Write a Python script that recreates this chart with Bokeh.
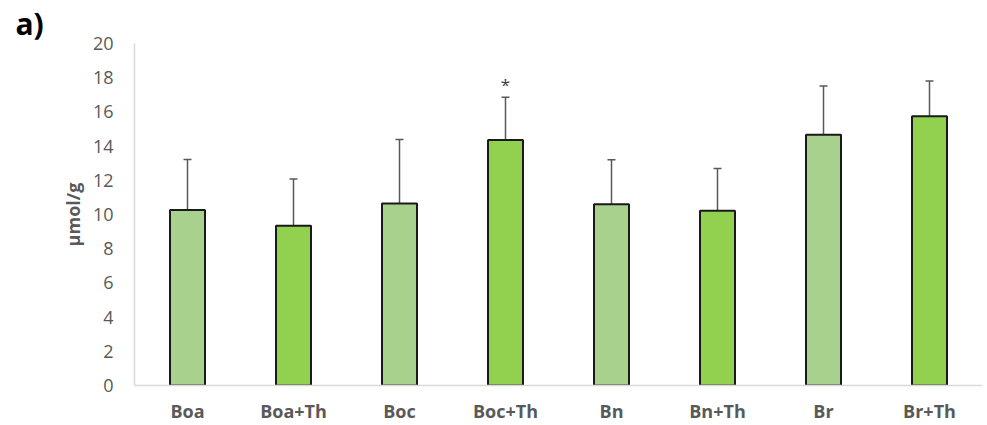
from bokeh.plotting import figure
from bokeh.models import ColumnDataSource, Whisker, TeeHead, Range1d, FixedTicker
from bokeh.core.properties import value
from bokeh.embed import file_html
from bokeh.resources import INLINE

# Treatments and measured concentrations (µmol/g) with standard deviations
groups = ["Boa", "Boa+Th", "Boc", "Boc+Th", "Bn", "Bn+Th", "Br", "Br+Th"]
means = [10.27, 9.34, 10.64, 14.35, 10.60, 10.22, 14.66, 15.75]
errors = [2.95, 2.73, 3.75, 2.50, 2.60, 2.47, 2.85, 2.05]
# treated groups (+Th) use the darker green
treated = [False, True, False, True, False, True, False, True]
# significance marks placed above the error bar
sig_groups = ["Boc+Th"]
sig_marks = ["*"]

y_ticks = [0, 2, 4, 6, 8, 10, 12, 14, 16, 18, 20]

LIGHT = "#A9D18E"
DARK = "#92D050"
TEXT = "#595959"
FONT = "Open Sans"

source = ColumnDataSource(dict(
    group=groups,
    mean=means,
    upper=[m + e for m, e in zip(means, errors)],
    lower=[m - e for m, e in zip(means, errors)],
    color=[DARK if t else LIGHT for t in treated],
))

p = figure(
    x_range=groups,
    y_range=Range1d(0, 20),
    width=987, height=425,
    output_backend="svg",
    toolbar_location=None,
    min_border_left=134, min_border_right=5,
    min_border_top=43, min_border_bottom=40,
)

# panel letter
p.title.text = "a)"
p.title.align = "left"
p.title.offset = -119
p.title.standoff = 0
p.title.text_font = FONT
p.title.text_font_size = "30px"
p.title.text_font_style = "bold"
p.title.text_color = "#000000"

p.vbar(x="group", top="mean", width=0.33, source=source,
       fill_color="color", line_color="#1a1a1a", line_width=2)

whisker = Whisker(
    base="group", upper="upper", lower="lower", source=source,
    line_color=TEXT, line_width=1.5,
    upper_head=TeeHead(size=8, line_color=TEXT, line_width=1.5),
    lower_head=TeeHead(size=8, line_color=TEXT, line_width=1.5),
)
p.add_layout(whisker)

sig_y = [means[groups.index(g)] + errors[groups.index(g)] + 0.75 for g in sig_groups]
p.text(x=sig_groups, y=sig_y, text=sig_marks, text_align="center",
       text_baseline="middle", text_font=value(FONT), text_font_size="17px",
       text_color="#404040")

# axes styling
p.xgrid.visible = False
p.ygrid.visible = False
p.outline_line_color = None

for ax in (p.xaxis, p.yaxis):
    ax.major_tick_line_color = None
    ax.minor_tick_line_color = None
    ax.major_tick_out = 0
    ax.minor_tick_out = 0
    ax.major_tick_in = 0
    ax.minor_tick_in = 0
    ax.axis_line_color = "#D9D9D9"
    ax.axis_line_width = 1.5
    ax.major_label_text_font = FONT
    ax.major_label_text_font_size = "18px"
    ax.major_label_text_color = TEXT

p.yaxis.ticker = FixedTicker(ticks=y_ticks)
p.yaxis.major_label_standoff = 21
p.yaxis.axis_label = "µmol/g"
p.yaxis.axis_label_text_font = FONT
p.yaxis.axis_label_text_font_size = "18px"
p.yaxis.axis_label_text_font_style = "bold"
p.yaxis.axis_label_text_color = TEXT
p.yaxis.axis_label_standoff = 5

p.xaxis.major_label_text_font_style = "bold"
p.xaxis.major_label_standoff = 13

p.x_range.range_padding = 0.0

open("out.html", "w").write(file_html(p, INLINE))
